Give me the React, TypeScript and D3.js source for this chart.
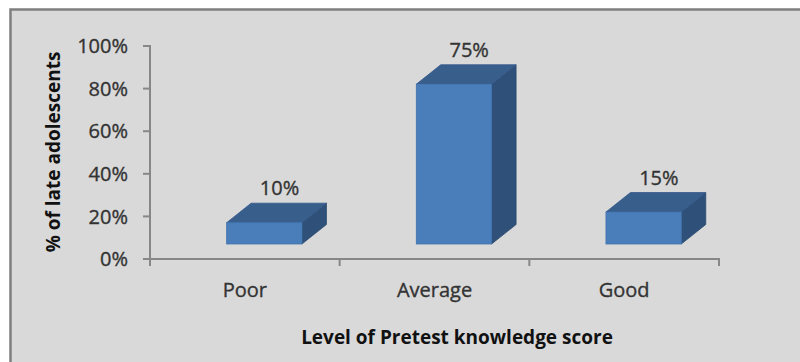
import React from "react";
import * as d3 from "d3";

// Distribution of pretest knowledge levels among late adolescents
const categories: string[] = ["Poor", "Average", "Good"];
const percentages: number[] = [10, 75, 15];
const yTicks: number[] = [0, 20, 40, 60, 80, 100];

const W = 800;
const H = 362;
const FONT = "'Open Sans', 'Noto Sans', sans-serif";
const LABEL_COLOR = "#333333";

export default function App() {
  const plotLeft = 150;
  const plotRight = 719;
  const plotTop = 46;
  const plotBottom = 259;

  const x = d3.scaleBand<string>().domain(categories).range([plotLeft, plotRight]).padding(0);
  const y = d3.scaleLinear().domain([0, 100]).range([plotBottom, plotTop]);

  const bw = x.bandwidth();
  const depthX = 24.5;
  const depthY = 19.5;
  const floorLift = 15;
  const barW = bw * 0.397;
  const barOffset = bw * 0.404;

  const axisColor = "#878787";
  const labelStroke = { stroke: LABEL_COLOR, strokeWidth: 0.35 };

  const boundaries = [...categories.map((c) => x(c) as number), plotRight];

  return (
    <svg
      width={W}
      height={H}
      style={{ position: "absolute", left: 0, top: 0, display: "block" }}
      fontFamily={FONT}
    >
      <rect x={0} y={0} width={W} height={H} fill="#ffffff" />
      <rect x={10.5} y={9.5} width={W + 20} height={H + 20} fill="#d9d9d9" stroke="#7f7f7f" strokeWidth={2.5} />

      {/* value axis */}
      <line x1={plotLeft} x2={plotLeft} y1={plotTop - 1} y2={plotBottom} stroke={axisColor} strokeWidth={2} />
      {yTicks.map((t) => (
        <g key={t}>
          <line x1={plotLeft - 7} x2={plotLeft} y1={y(t)} y2={y(t)} stroke={axisColor} strokeWidth={2} />
          <text
            x={128}
            y={y(t)}
            dy="0.36em"
            textAnchor="end"
            fontSize={20}
            fill={LABEL_COLOR}
            {...labelStroke}
          >
            {`${t}%`}
          </text>
        </g>
      ))}

      {/* category axis */}
      <line x1={plotLeft} x2={plotRight + 1} y1={plotBottom} y2={plotBottom} stroke={axisColor} strokeWidth={2} />
      {boundaries.map((bx, i) => (
        <line key={i} x1={bx} x2={bx} y1={plotBottom} y2={plotBottom + 7} stroke={axisColor} strokeWidth={2} />
      ))}
      {categories.map((c) => (
        <text
          key={c}
          x={(x(c) as number) + bw / 2}
          y={297}
          textAnchor="middle"
          fontSize={20}
          fill={LABEL_COLOR}
          {...labelStroke}
        >
          {c}
        </text>
      ))}

      {/* 3D columns */}
      {categories.map((c, i) => {
        const v = percentages[i];
        const x0 = (x(c) as number) + barOffset;
        const x1 = x0 + barW;
        const yTop = y(v) - floorLift;
        const yBot = y(0) - floorLift;
        const top = [
          [x0, yTop],
          [x0 + depthX, yTop - depthY],
          [x1 + depthX, yTop - depthY],
          [x1, yTop],
        ];
        const side = [
          [x1, yTop],
          [x1 + depthX, yTop - depthY],
          [x1 + depthX, yBot - depthY],
          [x1, yBot],
        ];
        const pts = (p: number[][]) => p.map((q) => q.join(",")).join(" ");
        return (
          <g key={c}>
            <polygon points={pts(side)} fill="#2f5078" stroke="#2a4a70" strokeWidth={0.8} />
            <polygon points={pts(top)} fill="#385e8c" stroke="#33578a" strokeWidth={0.8} />
            <rect x={x0} y={yTop} width={barW} height={yBot - yTop} fill="#4a7ebb" stroke="#4274ae" strokeWidth={0.8} />
            <text
              x={x0 + barW / 2 + depthX / 2 + 3}
              y={yTop - depthY - 8}
              textAnchor="middle"
              fontSize={20}
              fill={LABEL_COLOR}
              {...labelStroke}
            >
              {`${v}%`}
            </text>
          </g>
        );
      })}

      {/* axis titles */}
      <text
        x={457}
        y={344}
        textAnchor="middle"
        fontSize={19}
        fontWeight="bold"
        fill="#111111"
      >
        Level of Pretest knowledge score
      </text>
      <text
        transform={`translate(60,${152}) rotate(-90)`}
        textAnchor="middle"
        fontSize={19}
        fontWeight="bold"
        fill="#111111"
      >
        % of late adolescents
      </text>
    </svg>
  );
}
